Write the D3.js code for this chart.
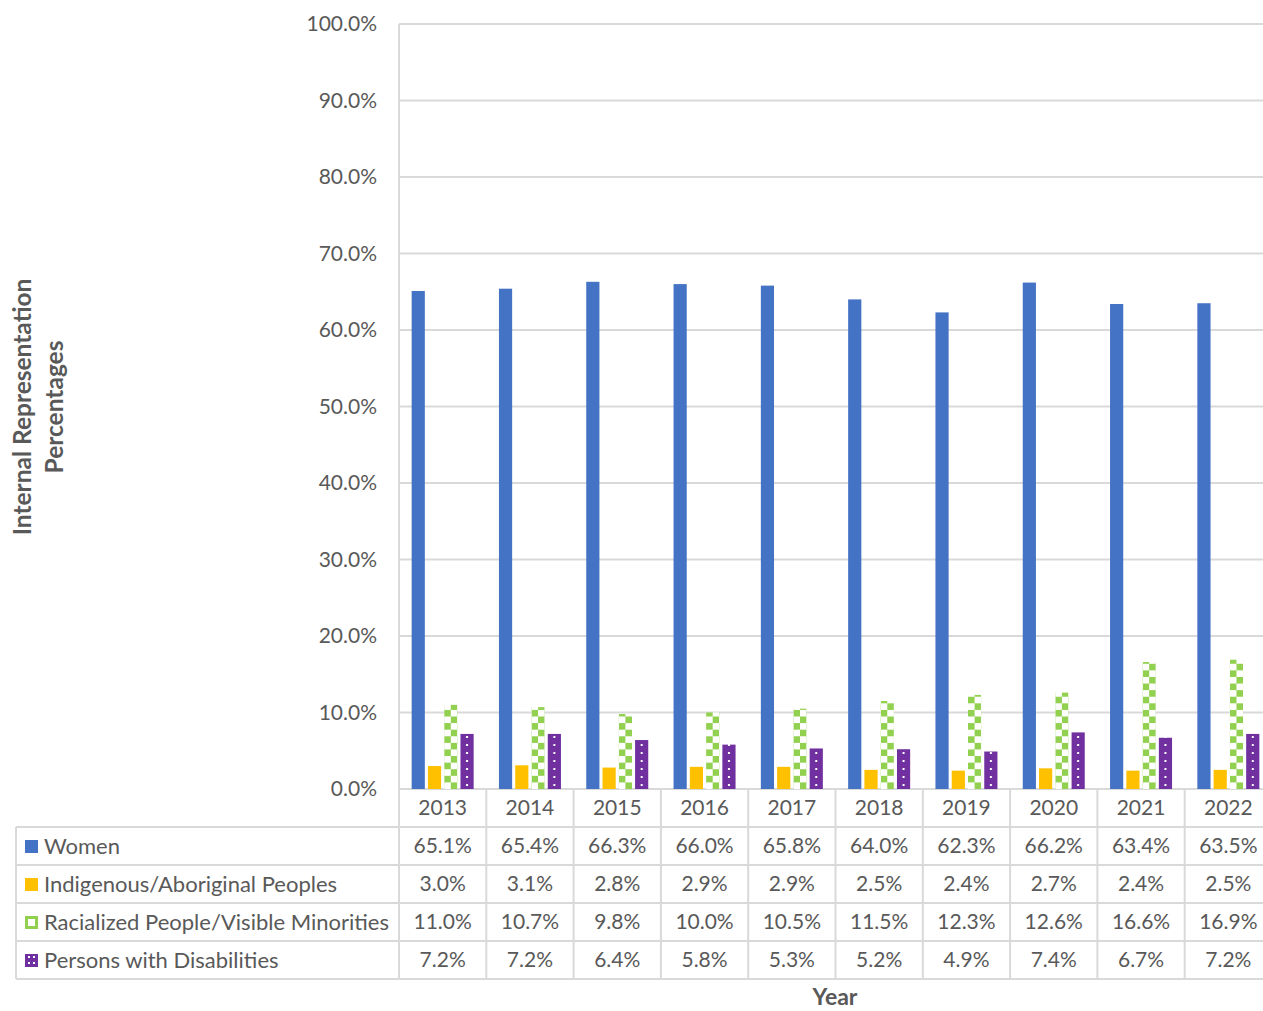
<!DOCTYPE html>
<html><head><meta charset="utf-8">
<script src="https://cdn.jsdelivr.net/npm/d3@7"></script>
<style>body{margin:0;background:#fff;overflow:hidden;} text{font-family:Lato, "Open Sans", sans-serif;}</style>
</head><body><svg id="c" width="1263" height="1011"></svg>
<script>
const years = ["2013","2014","2015","2016","2017","2018","2019","2020","2021","2022"];
const seriesNames = ["Women","Indigenous/Aboriginal Peoples","Racialized People/Visible Minorities","Persons with Disabilities"];
const women = [65.1,65.4,66.3,66.0,65.8,64.0,62.3,66.2,63.4,63.5];
const indigenous = [3.0,3.1,2.8,2.9,2.9,2.5,2.4,2.7,2.4,2.5];
const racialized = [11.0,10.7,9.8,10.0,10.5,11.5,12.3,12.6,16.6,16.9];
const disabilities = [7.2,7.2,6.4,5.8,5.3,5.2,4.9,7.4,6.7,7.2];
const yTicks = [0,10,20,30,40,50,60,70,80,90,100];
const series = [women, indigenous, racialized, disabilities];
const colors = ["#4472c4","#ffc000","#92d050","#7030a0"];

const svg = d3.select("#c");
const defs = svg.append("defs");
const W = 1263;
const L = 399, R = 1272, T = 24, B = 789;
const x = d3.scaleBand().domain(years).range([L,R]);
const y = d3.scaleLinear().domain([0,100]).range([B,T]);
const inner = d3.scaleBand().domain(d3.range(4)).range([0,62]).paddingInner(0.19);
const grid = "#d9d9d9";
const gOff = (x.bandwidth()-62)/2;
const barX = (i,si)=>x(years[i])+gOff+inner(si);
const bw = inner.bandwidth();

// per-bar checker patterns, aligned to each bar
years.forEach((yr,i)=>{
  const px = barX(i,2);
  const p = defs.append("pattern").attr("id","chk"+i).attr("patternUnits","userSpaceOnUse")
    .attr("x",px).attr("y",B).attr("width",bw).attr("height",bw);
  const c = bw/2;
  p.append("rect").attr("width",bw).attr("height",bw).attr("fill","#fff");
  p.append("rect").attr("width",c).attr("height",c).attr("fill",colors[2]);
  p.append("rect").attr("x",c).attr("y",c).attr("width",c).attr("height",c).attr("fill",colors[2]);
  const q = defs.append("pattern").attr("id","dots"+i).attr("patternUnits","userSpaceOnUse")
    .attr("x",barX(i,3)).attr("y",B).attr("width",bw).attr("height",8);
  q.append("rect").attr("width",bw).attr("height",8).attr("fill",colors[3]);
  q.append("rect").attr("x",bw/2-1).attr("y",3).attr("width",2).attr("height",2).attr("fill","#fff");
});
const fillFor = (si,i)=> si===2 ? `url(#chk${i})` : si===3 ? `url(#dots${i})` : colors[si];

// gridlines
svg.append("g").selectAll("line").data(yTicks).join("line")
  .attr("x1",L).attr("x2",W).attr("y1",d=>y(d)).attr("y2",d=>y(d))
  .attr("stroke",grid).attr("stroke-width",2);
// y axis via d3
const yAxis = d3.axisLeft(y).tickValues(yTicks).tickFormat(d=>d.toFixed(1)+"%").tickSize(0).tickPadding(22);
const ya = svg.append("g").attr("transform",`translate(${L},0)`).call(yAxis);
ya.select(".domain").remove();
ya.selectAll("text").attr("font-size",21).attr("fill","#595959").style("font-family","Lato, sans-serif");

// bars
series.forEach((vals,si)=>{
  svg.append("g").selectAll("rect").data(vals).join("rect")
    .attr("x",(d,i)=>barX(i,si))
    .attr("width",bw)
    .attr("y",d=>y(d)).attr("height",d=>B-y(d))
    .attr("fill",(d,i)=>fillFor(si,i));
});

// table
const rowH = 38, tTop = B, tL = 16;
const tb = svg.append("g");
tb.append("line").attr("x1",L).attr("x2",L).attr("y1",T).attr("y2",B+rowH*5).attr("stroke",grid).attr("stroke-width",2);
for(let r=1;r<=5;r++) tb.append("line").attr("x1",tL).attr("x2",W).attr("y1",tTop+rowH*r).attr("y2",tTop+rowH*r).attr("stroke",grid).attr("stroke-width",2);
tb.append("line").attr("x1",tL).attr("x2",tL).attr("y1",tTop+rowH).attr("y2",tTop+rowH*5).attr("stroke",grid).attr("stroke-width",2);
tb.selectAll(".vl").data(years).join("line").attr("x1",d=>x(d)+x.bandwidth()).attr("x2",d=>x(d)+x.bandwidth())
  .attr("y1",tTop).attr("y2",tTop+rowH*5).attr("stroke",grid).attr("stroke-width",2);
tb.selectAll(".yr").data(years).join("text").attr("x",d=>x(d)+x.bandwidth()/2).attr("y",tTop+rowH/2+7)
  .attr("text-anchor","middle").attr("font-size",21).attr("fill","#595959").text(d=>d);
series.forEach((vals,si)=>{
  const cy = tTop+rowH*(si+1)+rowH/2;
  tb.append("g").selectAll("text").data(vals).join("text").attr("x",(d,i)=>x(years[i])+x.bandwidth()/2).attr("y",cy+7)
    .attr("text-anchor","middle").attr("font-size",21).attr("fill","#595959").text(d=>d.toFixed(1)+"%");
  if(si===2){
    tb.append("rect").attr("x",26.5).attr("y",cy-4.5).attr("width",10).attr("height",10).attr("fill","none").attr("stroke",colors[2]).attr("stroke-width",3);
  } else if(si===3){
    tb.append("rect").attr("x",25).attr("y",cy-6).attr("width",13).attr("height",13).attr("fill",colors[3]);
    [[28,-3],[33,-3],[28,3],[33,3]].forEach(([dx,dy])=>tb.append("rect").attr("x",dx).attr("y",cy+dy-1).attr("width",2).attr("height",2).attr("fill","#fff"));
  } else {
    tb.append("rect").attr("x",25).attr("y",cy-6).attr("width",13).attr("height",13).attr("fill",colors[si]);
  }
  tb.append("text").attr("x",44).attr("y",cy+7.5).attr("font-size",22).attr("fill","#595959").text(seriesNames[si]);
});

// titles
svg.append("text").attr("x",835).attr("y",1005).attr("text-anchor","middle").attr("font-size",23).attr("font-weight","bold").attr("fill","#595959").text("Year");
const yt = svg.append("text").attr("transform","translate(31,407) rotate(-90)").attr("text-anchor","middle").attr("font-size",24.5).attr("font-weight","bold").attr("fill","#595959");
yt.append("tspan").attr("x",0).attr("dy",0).text("Internal Representation");
yt.append("tspan").attr("x",0).attr("dy",32).text("Percentages");
</script></body></html>
